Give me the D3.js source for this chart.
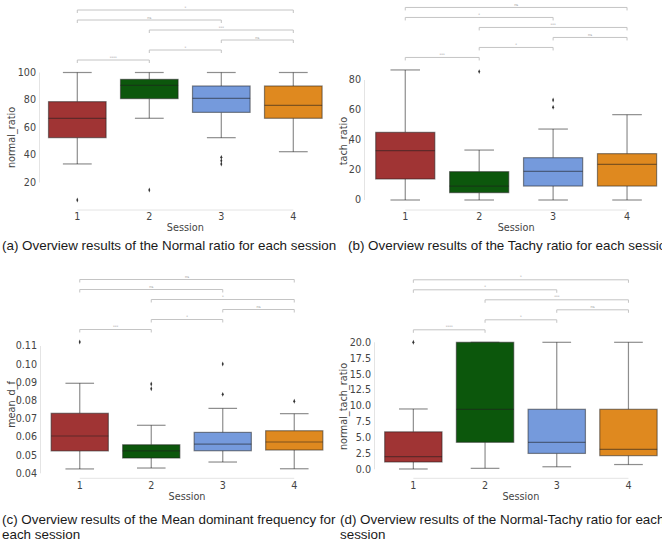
<!DOCTYPE html>
<html>
<head>
<meta charset="utf-8">
<script src="https://cdn.jsdelivr.net/npm/d3@7"></script>
<style>
	body { margin: 0; background: #fff; }
	svg { display: block; }
</style>
</head>
<body>
<svg id="chart" width="662" height="544"></svg>
<script>
/* global d3 */

//* data
var sessions = ['1', '2', '3', '4'];
var boxColors = ['#a03434', '#0c570c', '#759adc', '#df891f'];

// each box: [lower whisker, q1, median, q3, upper whisker]
var normalRatioStats = [[33.5, 52.6, 66.7, 78.8, 100], [66.7, 81, 90.7, 95, 100], [52.6, 71, 81.2, 90.2, 100], [42.4, 66.7, 76.1, 90.2, 100]];
var normalRatioOutliers = [[7.3], [14.5], [38.3, 35.9, 33.5], []];
var normalRatioTicks = [20, 40, 60, 80, 100];

var tachRatioStats = [[0, 14, 32.9, 45.1, 86.7], [0, 4.9, 9.3, 18.9, 33.3], [0, 9.3, 19.1, 28.2, 47.3], [0, 9.3, 23.8, 30.9, 56.9]];
var tachRatioOutliers = [[], [85.6], [66.7, 61.8], []];
var tachRatioTicks = [0, 20, 40, 60, 80];

var meanDfStats = [[0.0424, 0.0523, 0.0605, 0.073, 0.0895], [0.0429, 0.0484, 0.0523, 0.0557, 0.0664], [0.0462, 0.0524, 0.056, 0.0625, 0.0757], [0.0425, 0.0528, 0.0572, 0.0634, 0.0728]];
var meanDfOutliers = [[0.1122], [0.0891, 0.0865], [0.1001, 0.0834], [0.0796]];
var meanDfTicks = [0.04, 0.05, 0.06, 0.07, 0.08, 0.09, 0.10, 0.11];

var normalTachStats = [[0.05, 1.15, 2.0, 5.9, 9.5], [0.15, 4.25, 9.45, 20, 20], [0.4, 2.5, 4.25, 9.45, 20], [0.75, 2.15, 3.15, 9.45, 20]];
var normalTachOutliers = [[20], [], [], []];
var normalTachTicks = [0, 2.5, 5, 7.5, 10, 12.5, 15, 17.5, 20];

//* significance brackets, lowest first
var testPairs = [[0, 1], [1, 2], [2, 3], [1, 3], [0, 2], [0, 3]];
var normalRatioSig = ['****', '*', 'ns', '***', 'ns', '*'];
var tachRatioSig = ['***', '*', 'ns', '***', '*', 'ns'];
var meanDfSig = ['***', '*', 'ns', '*', 'ns', 'ns'];
var normalTachSig = ['****', '*', 'ns', '***', '*', '*'];

var captions = [
	['(a) Overview results of the Normal ratio for each session'],
	['(b) Overview results of the Tachy ratio for each session'],
	['(c) Overview results of the Mean dominant frequency for', 'each session'],
	['(d) Overview results of the Normal-Tachy ratio for each', 'session']
];

//* layout of the four panels
var panels = [
	{ stats: normalRatioStats, outliers: normalRatioOutliers, ticks: normalRatioTicks, sig: normalRatioSig, label: 'normal_ratio', fmt: d3.format('d'),
	  xRange: [41.3, 329.3], yDomain: [0, 100], yRange: [210, 72.5], spineX: 39.5, bottom: 210, labelX: 15, labelY: 137.5,
	  tickY: 220.3, titleY: 231, capX: 2, capY: 250 },
	{ stats: tachRatioStats, outliers: tachRatioOutliers, ticks: tachRatioTicks, sig: tachRatioSig, label: 'tach_ratio', fmt: d3.format('d'),
	  xRange: [368.3, 664], yDomain: [0, 80], yRange: [200, 80], spineX: 364.5, bottom: 210, labelX: 346.5, labelY: 141,
	  tickY: 220.3, titleY: 231, capX: 348, capY: 250 },
	{ stats: meanDfStats, outliers: meanDfOutliers, ticks: meanDfTicks, sig: meanDfSig, label: 'mean_d_f', fmt: d3.format('.2f'),
	  xRange: [44, 330], yDomain: [0.04, 0.11], yRange: [473.3, 346], spineX: 40.5, bottom: 478.3, labelX: 15, labelY: 404.5,
	  tickY: 488.6, titleY: 500, capX: 2, capY: 524 },
	{ stats: normalTachStats, outliers: normalTachOutliers, ticks: normalTachTicks, sig: normalTachSig, label: 'normal_tach_ratio', fmt: d3.format('.1f'),
	  xRange: [377.5, 664.3], yDomain: [0, 20], yRange: [469.3, 342.3], spineX: 374.5, bottom: 478.3, labelX: 346.5, labelY: 406.5,
	  tickY: 488.6, titleY: 500, capX: 340, capY: 524 }
];

var svg = d3.select('#chart');
var LINE = 'rgba(30,30,30,0.5)';
var SPINE = '#e4e4e4';
var TEXT = '#444';
var FONT = 'DejaVu Sans, sans-serif';

panels.forEach(function(p, pi) {

	var x = d3.scaleBand().domain(sessions).range(p.xRange).paddingInner(0).paddingOuter(0);
	var y = d3.scaleLinear().domain(p.yDomain).range(p.yRange);
	var bw = x.bandwidth() * 0.8;
	var cx = function(i) { return x(sessions[i]) + x.bandwidth() / 2; };

	var g = svg.append('g').attr('class', 'panel');

	//* SPINES (trimmed)
	g.append('line')
		.attr('x1', p.spineX).attr('x2', p.spineX)
		.attr('y1', y(d3.min(p.ticks))).attr('y2', y(d3.max(p.ticks)))
		.attr('stroke', SPINE).attr('stroke-width', 1);

	g.append('line')
		.attr('x1', cx(0)).attr('x2', cx(sessions.length - 1))
		.attr('y1', p.bottom).attr('y2', p.bottom)
		.attr('stroke', SPINE).attr('stroke-width', 1);

	//* Y TICK LABELS
	g.selectAll('.ytick').data(p.ticks).enter().append('text')
		.attr('class', 'ytick')
		.attr('x', p.spineX - 3.5)
		.attr('y', function(d) { return y(d); })
		.attr('dy', '0.36em')
		.attr('font-family', FONT).attr('font-size', 9.6)
		.style('text-anchor', 'end').style('fill', TEXT)
		.text(function(d) { return p.fmt(d); });

	//* X TICK LABELS
	g.selectAll('.xtick').data(sessions).enter().append('text')
		.attr('class', 'xtick')
		.attr('x', function(d, i) { return cx(i); })
		.attr('y', p.tickY)
		.attr('font-family', FONT).attr('font-size', 9.6)
		.style('text-anchor', 'middle').style('fill', TEXT)
		.text(function(d) { return d; });

	g.append('text')
		.attr('x', (cx(0) + cx(3)) / 2)
		.attr('y', p.titleY)
		.attr('font-family', FONT).attr('font-size', 9.7)
		.style('text-anchor', 'middle').style('fill', TEXT)
		.text('Session');

	g.append('text')
		.attr('transform', 'translate(' + p.labelX + ',' + p.labelY + ') rotate(-90)')
		.attr('font-family', FONT).attr('font-size', 9.7)
		.style('text-anchor', 'middle').style('fill', TEXT)
		.text(p.label);

	//* BOXES
	p.stats.forEach(function(s, i) {
		var c = cx(i);

		// whiskers
		[[s[1], s[0]], [s[3], s[4]]].forEach(function(w) {
			g.append('line')
				.attr('x1', c).attr('x2', c)
				.attr('y1', y(w[0])).attr('y2', y(w[1]))
				.attr('stroke', LINE).attr('stroke-width', 1.2);
			g.append('line')
				.attr('x1', c - bw / 4).attr('x2', c + bw / 4)
				.attr('y1', y(w[1])).attr('y2', y(w[1]))
				.attr('stroke', LINE).attr('stroke-width', 1.2);
		});

		g.append('rect')
			.attr('x', c - bw / 2)
			.attr('y', y(s[3]))
			.attr('width', bw)
			.attr('height', y(s[1]) - y(s[3]))
			.attr('fill', boxColors[i])
			.attr('stroke', LINE).attr('stroke-width', 1.2);

		g.append('line')
			.attr('x1', c - bw / 2).attr('x2', c + bw / 2)
			.attr('y1', y(s[2])).attr('y2', y(s[2]))
			.attr('stroke', LINE).attr('stroke-width', 1.2);

		// outliers
		g.selectAll('.flier-' + i).data(p.outliers[i]).enter().append('path')
			.attr('class', 'flier-' + i)
			.attr('transform', function(d) { return 'translate(' + c + ',' + y(d) + ') scale(0.7,1)'; })
			.attr('d', d3.symbol().type(d3.symbolDiamond).size(7))
			.attr('fill', '#333');
	});

	//* SIGNIFICANCE BRACKETS
	var top = y(d3.max(p.stats.map(function(s, i) { return d3.max(s.concat(p.outliers[i])); })));

	testPairs.forEach(function(pair, li) {
		var by = top - 12.5 - 10 * li;
		var x1 = cx(pair[0]), x2 = cx(pair[1]);

		g.append('path')
			.attr('d', 'M' + x1 + ',' + (by + 3) + 'L' + x1 + ',' + by + 'L' + x2 + ',' + by + 'L' + x2 + ',' + (by + 3))
			.attr('fill', 'none')
			.attr('stroke', '#c4c4c4').attr('stroke-width', 1);

		g.append('text')
			.attr('x', (x1 + x2) / 2)
			.attr('y', by - 1.5)
			.attr('font-family', FONT).attr('font-size', 3.5)
			.style('text-anchor', 'middle').style('fill', '#999')
			.text(p.sig[li]);
	});

	//* CAPTION
	captions[pi].forEach(function(line, k) {
		svg.append('text')
			.attr('x', p.capX)
			.attr('y', p.capY + k * 15)
			.attr('font-family', 'Liberation Sans, Arial, sans-serif')
			.attr('font-size', 13.4)
			.style('fill', '#1a1a1a')
			.text(line);
	});
});
</script>
</body>
</html>
